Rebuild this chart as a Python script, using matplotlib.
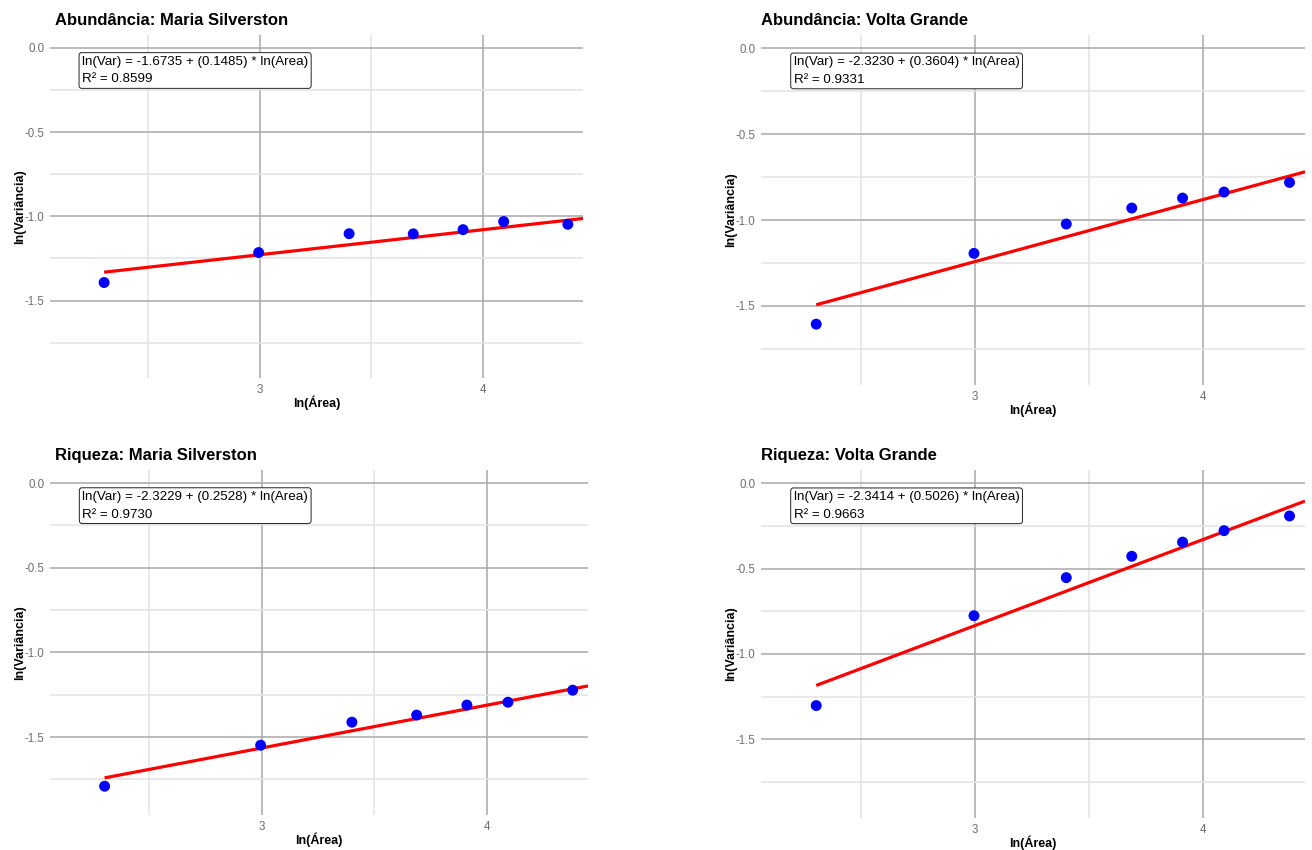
import numpy as np
import matplotlib
matplotlib.use("Agg")
import matplotlib.pyplot as plt
from matplotlib.ticker import FixedLocator

plt.rcParams['font.family'] = ['Liberation Sans', 'DejaVu Sans']

# ---- data ----
areas = [10, 20, 30, 40, 50, 60, 80]
ab_ms = [-1.393, -1.215, -1.103, -1.104, -1.079, -1.031, -1.047]
ab_vg = [-1.606, -1.194, -1.023, -0.930, -0.872, -0.837, -0.781]
ri_ms = [-1.790, -1.548, -1.412, -1.370, -1.311, -1.294, -1.223]
ri_vg = [-1.302, -0.776, -0.553, -0.428, -0.345, -0.278, -0.192]

titles = ["Abundância: Maria Silverston", "Abundância: Volta Grande",
          "Riqueza: Maria Silverston", "Riqueza: Volta Grande"]
intercepts = [-1.6735, -2.3230, -2.3229, -2.3414]
slopes = [0.1485, 0.3604, 0.2528, 0.5026]
r2 = [0.8599, 0.9331, 0.9730, 0.9663]
series = [ab_ms, ab_vg, ri_ms, ri_vg]

x_major = [3, 4]
x_minor = [2.5, 3.5, 4.5]
y_major = [0.0, -0.5, -1.0, -1.5]
y_minor = [-0.25, -0.75, -1.25, -1.75]

W, H = 1312, 850
fig = plt.figure(figsize=(W / 100, H / 100), dpi=100)

# panel boxes in pixels: left, right, top, bottom
boxes = [(50, 583, 35, 378), (761, 1305, 35, 385),
         (50, 588, 470, 815), (761, 1305, 470, 818)]

xlim = (2.06, 4.45)
ylim = (-1.96, 0.077)
lnx = np.log(np.array(areas, dtype=float))

for i, (l, r, t, b) in enumerate(boxes):
    ax = fig.add_axes([l / W, 1 - b / H, (r - l) / W, (b - t) / H])
    ax.set_xlim(*xlim)
    ax.set_ylim(*ylim)
    for s in ax.spines.values():
        s.set_visible(False)
    ax.xaxis.set_major_locator(FixedLocator(x_major))
    ax.xaxis.set_minor_locator(FixedLocator(x_minor))
    ax.yaxis.set_major_locator(FixedLocator(y_major))
    ax.yaxis.set_minor_locator(FixedLocator(y_minor))
    ax.set_xticklabels([str(v) for v in x_major])
    ax.set_yticklabels([f"{v:.1f}" for v in y_major])
    ax.grid(which='major', color='#a8a8a8', linewidth=1.1, zorder=0)
    ax.grid(which='minor', color='#e3e3e3', linewidth=1.1, zorder=0)
    ax.tick_params(which='both', length=0)
    ax.tick_params(which='major', labelsize=8.3, labelcolor='#6e6e6e', pad=4)
    ax.set_axisbelow(True)

    y = series[i]
    xs = np.array([lnx.min(), xlim[1]])
    ax.plot(xs, intercepts[i] + slopes[i] * xs, color='#ff0000', lw=2.3, zorder=2,
            solid_capstyle='butt')
    ax.scatter(lnx, y, s=62, color='#0000ff', zorder=3, edgecolors='none')

    txt = (f"ln(Var) = {intercepts[i]:.4f} + ({slopes[i]:.4f}) * ln(Area)\n"
           f"R² = {r2[i]:.4f}")
    ax.text(0.06, 0.94, txt, transform=ax.transAxes, ha='left', va='top',
            fontsize=9.6, linespacing=1.65, zorder=4,
            bbox=dict(boxstyle='round,pad=0.22,rounding_size=0.2', fc='white',
                      ec='#222222', lw=0.7))

    ax.set_title(titles[i], loc='left', fontsize=12, fontweight='bold',
                 x=0.01 if l < 100 else 0.0, pad=7)
    ax.set_xlabel("ln(Área)", fontsize=9, fontweight='bold', labelpad=0)
    ax.set_ylabel("ln(Variância)", fontsize=9, fontweight='bold', labelpad=-1)

fig.savefig("out.png", dpi=100, facecolor='white')
